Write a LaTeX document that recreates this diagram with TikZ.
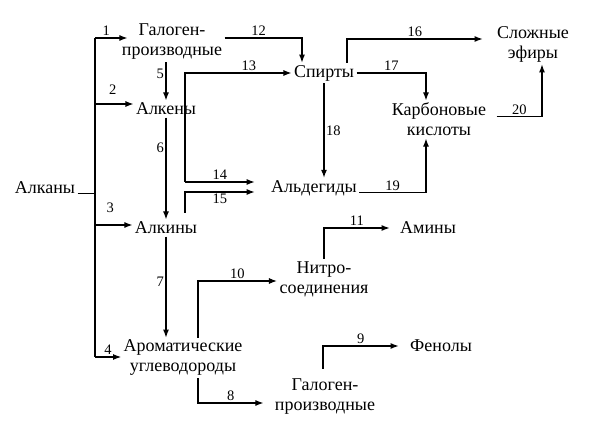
\documentclass[tikz,border=0pt]{standalone}
\usepackage{fontspec}
\setmainfont{Liberation Serif}
\newfontfamily\rusfont{Liberation Serif}
\usepackage{tikz}
\usetikzlibrary{arrows.meta}
\usetikzlibrary{calc}

\begin{document}
\begin{tikzpicture}[x=1pt, y=-1pt, line width=1.1pt,
    >={Latex[length=8pt,width=6pt]},
    txt/.style={align=center, inner sep=2pt, font=\rusfont\fontsize{18}{20}\selectfont},
    num/.style={inner sep=1.5pt, font=\rusfont\fontsize{14.5}{16}\selectfont}]
    \useasboundingbox (0,0) rectangle (598,433);

    % Classes de composés
    \node[txt] (alkany) at (45,187.5) {Алканы};
    \node[txt] (halo1) at (172,42) {Галоген-\\производные};
    \node[txt] (alkeny) at (166,109) {Алкены};
    \node[txt] (alkiny) at (166,228) {Алкины};
    \node[txt] (arom) at (183,358) {Ароматические\\углеводороды};
    \node[txt] (spirty) at (324,73) {Спирты};
    \node[txt] (ald) at (314,188) {Альдегиды};
    \node[txt] (karb) at (439,119.5) {Карбоновые\\кислоты};
    \node[txt] (efiry) at (533,44) {Сложные\\эфиры};
    \node[txt] (nitro) at (324,279) {Нитро-\\соединения};
    \node[txt] (aminy) at (428,228) {Амины};
    \node[txt] (halo2) at (325,397) {Галоген-\\производные};
    \node[txt] (fenoly) at (441,346) {Фенолы};

    % Tronc commun des alcanes
    \coordinate (top) at (95,38);
    \coordinate (bot) at (95,357);
    \draw (alkany.base east) -- (alkany.base east -| top);
    \draw (top) -- (bot);
    \draw[->] (top) -- node[num, above, pos=0.35] {1} ($(top -| halo1.west)+(8,0)$);
    \draw[->] ($(top |- alkeny.west)+(0,-5)$) -- node[num, above=7pt, pos=0.46] {2} ($(alkeny.west)+(0,-5)$);
    \draw[->] ($(top |- alkiny.west)+(0,-3)$) -- node[num, above=10pt, pos=0.41] {3} ($(alkiny.west)+(0,-3)$);
    \draw[->] (bot) -- node[num, above, pos=0.5] {4} (bot -| arom.west);

    % Colonne de gauche
    \draw[->] (halo1.south -| alkeny.north) -- node[num, left, pos=0.3] {5} (alkeny.north);
    \draw[->] (alkeny.south) -- node[num, left, pos=0.3] {6} (alkiny.north);
    \draw[->] (alkiny.south) -- node[num, left, pos=0.45] {7} (alkiny.south |- arom.north);

    % Vers les alcools et les aldéhydes
    \draw[->] (halo1.east |- top) -| node[num, above, pos=0.22] {12} ($(spirty.north)+(-22,0)$);
    \coordinate (c13) at (185,182);
    \coordinate (c15) at (185,213);
    \draw[->] (c13) |- node[num, above, pos=0.8] {13} (spirty.west);
    \draw[->] (c13) -- node[num, above] {14} ($(c13 -| ald.west)+(-14,0)$);
    \draw[->] (c15) |- node[num, below, pos=0.75] {15} ($(ald.west)+(-14,4)$);

    % Alcools, acides et esters
    \draw[->] ($(spirty.north)+(23,0)$) |- node[num, above, pos=0.75] {16} ($(efiry.west)+(-12,-5)$);
    \draw[->] (spirty.east) -| node[num, above, pos=0.25] {17} ($(karb.north)+(-13,0)$);
    \draw[->] (spirty.south) -- node[num, right, pos=0.5] {18} (spirty.south |- ald.north);
    \draw[->] (ald.base east) -| node[num, above, pos=0.25] {19} ($(karb.south)+(-13,0)$);
    \draw[->] ($(karb.east)+(8,-3)$) -| node[num, above, pos=0.25] {20} ($(efiry.south)+(9,0)$);

    % Dérivés aromatiques
    \draw[->] ($(arom.north)+(15,0)$) |- node[num, above, pos=0.75] {10} ($(nitro.west)+(0,2)$);
    \draw[->] (nitro.north) |- node[num, above, pos=0.75] {11} ($(aminy.west)+(-8,0)$);
    \draw[->] ($(arom.south)+(15,0)$) |- node[num, above, pos=0.75] {8} ($(halo2.west)+(-9,6)$);
    \draw[->] ($(halo2.north)+(-2,-8)$) |- node[num, above, pos=0.75] {9} ($(fenoly.west)+(-9,0)$);
\end{tikzpicture}
\end{document}
